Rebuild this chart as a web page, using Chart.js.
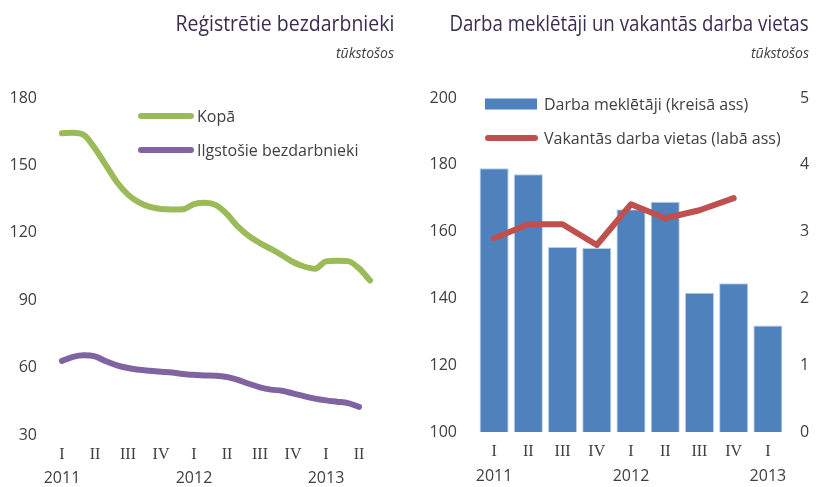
<!DOCTYPE html>
<html>
<head>
<meta charset="utf-8">
<script src="https://cdn.jsdelivr.net/npm/chart.js@4.4.1/dist/chart.umd.min.js"></script>
<style>
  body { margin: 0; background: #fff; }
  #wrap { position: relative; width: 820px; height: 487px; font-family: "Open Sans", sans-serif; }
  .panel { position: absolute; top: 0; width: 410px; height: 487px; }
  .panel canvas { position: absolute; left: 0; top: 0; }
  .title { position: absolute; top: 7px; font-size: 22px; color: #3b2d4f; white-space: nowrap; z-index: 2; transform-origin: right center; }
  .unit { position: absolute; top: 43px; font-size: 14px; font-style: italic; color: #404040; white-space: nowrap; z-index: 2; }
</style>
</head>
<body>
<div id="wrap">
  <div class="panel" style="left:0">
    <div class="title" style="right:16px; transform:scaleX(0.885)">Reģistrētie bezdarbnieki</div>
    <div class="unit" style="right:16px">tūkstošos</div>
    <canvas id="unemployed_canvas" width="410" height="487"></canvas>
  </div>
  <div class="panel" style="left:410px">
    <div class="title" style="right:11px; transform:scaleX(0.85)">Darba meklētāji un vakantās darba vietas</div>
    <div class="unit" style="right:11px">tūkstošos</div>
    <canvas id="seekers_canvas" width="410" height="487"></canvas>
  </div>
</div>
<script>
// monthly registered unemployment, thousands
var months = ['2011-01','2011-02','2011-03','2011-04','2011-05','2011-06','2011-07','2011-08','2011-09','2011-10','2011-11','2011-12',
              '2012-01','2012-02','2012-03','2012-04','2012-05','2012-06','2012-07','2012-08','2012-09','2012-10','2012-11','2012-12',
              '2013-01','2013-02','2013-03','2013-04','2013-05'];
var total_unemployed = [164.3,164.5,163.5,157.5,150,142.5,137,133.5,131.5,130.6,130.4,130.5,
                        132.8,133.4,132.3,128.3,122.7,118.5,115.4,112.8,110,107,105,104,
                        107.3,107.6,107.4,104.2,98.8];
var long_term_unemployed = [63,64.8,65.5,65,62.8,61,59.8,59,58.6,58.2,57.8,57.2,
                            56.8,56.5,56.4,55.8,54.5,52.8,51.2,50.2,49.7,48.5,47.3,46.2,
                            45.4,44.8,44.2,42.5,null];

// quarterly job seekers (left axis) and vacancies (right axis), thousands
var quarters = ['2011-Q1','2011-Q2','2011-Q3','2011-Q4','2012-Q1','2012-Q2','2012-Q3','2012-Q4','2013-Q1'];
var job_seekers = [179,177.2,155.4,155.1,166.7,168.9,141.7,144.5,131.9];
var vacancies = [2.9,3.11,3.11,2.8,3.41,3.2,3.32,3.5,null];

var roman_quarters = ['I','II','III','IV'];

var tick_color = '#404040';
var sans = '"Open Sans", sans-serif';
var serif = '"Liberation Serif", serif';

var green = '#9bbb59';
var purple = '#8064a2';
var blue = '#4f81bd';
var red = '#c0504d';

Chart.defaults.font.family = sans;
Chart.defaults.color = tick_color;

// fixed-size axis helpers
var fix_width = function(w) { return function(scale) { scale.width = w; }; };
var fix_height = function(h) { return function(scale) { scale.height = h; }; };

var hidden_grid = { display: false, drawTicks: false };
var no_border = { display: false };

// legend drawn inside the plot area
var inline_legend = {
  id: 'inline_legend',
  afterDraw: function(chart, args, opts) {
    var ctx = chart.ctx;
    ctx.save();
    ctx.font = '16px ' + sans;
    ctx.textBaseline = 'middle';
    ctx.fillStyle = tick_color;
    opts.items.forEach(function(item) {
      if (item.kind === 'box') {
        ctx.fillStyle = item.color;
        ctx.fillRect(item.x, item.y - 5.5, item.w, 11);
      } else {
        ctx.strokeStyle = item.color;
        ctx.lineWidth = 6;
        ctx.lineCap = 'round';
        ctx.beginPath();
        ctx.moveTo(item.x + 3, item.y);
        ctx.lineTo(item.x + item.w - 3, item.y);
        ctx.stroke();
      }
      ctx.fillStyle = tick_color;
      ctx.fillText(item.text, item.x + item.w + item.gap, item.y + 1);
    });
    ctx.restore();
  }
};

var quarter_tick = function(step) {
  return function(value, index) {
    return index % step === 0 ? roman_quarters[(index / step) % 4] : '';
  };
};

var year_tick = function(step, labels) {
  return function(value, index) {
    return index % step === 0 ? labels[index].slice(0, 4) : '';
  };
};

new Chart(document.getElementById('unemployed_canvas').getContext('2d'), {
  type: 'line',
  data: {
    labels: months,
    datasets: [
      {
        label: 'Kopā',
        data: total_unemployed,
        borderColor: green,
        borderWidth: 6,
        pointRadius: 0,
        tension: 0.3,
        cubicInterpolationMode: 'monotone',
        borderCapStyle: 'round',
        borderJoinStyle: 'round',
        clip: false
      },
      {
        label: 'Ilgstošie bezdarbnieki',
        data: long_term_unemployed,
        borderColor: purple,
        borderWidth: 6,
        pointRadius: 0,
        tension: 0.3,
        cubicInterpolationMode: 'monotone',
        borderCapStyle: 'round',
        borderJoinStyle: 'round',
        clip: false
      }
    ]
  },
  options: {
    responsive: false,
    animation: false,
    layout: { padding: { top: 98, right: 40, left: 0, bottom: 0 } },
    plugins: {
      legend: { display: false },
      tooltip: { enabled: false },
      inline_legend: {
        items: [
          { kind: 'line', color: green, x: 138, y: 116, w: 56, gap: 3, text: 'Kopā' },
          { kind: 'line', color: purple, x: 138, y: 150, w: 56, gap: 3, text: 'Ilgstošie bezdarbnieki' }
        ]
      }
    },
    scales: {
      x: {
        offset: false,
        weight: 0,
        grid: hidden_grid,
        border: no_border,
        afterFit: fix_height(26),
        ticks: { autoSkip: false, maxRotation: 0, padding: 10, font: { family: serif, size: 16 }, callback: quarter_tick(3) }
      },
      x2: {
        type: 'category',
        position: 'bottom',
        offset: false,
        weight: 1,
        grid: hidden_grid,
        border: no_border,
        afterFit: fix_height(26),
        ticks: { autoSkip: false, maxRotation: 0, padding: 8, font: { size: 16 }, callback: year_tick(12, months) }
      },
      y: {
        min: 30,
        max: 180,
        grid: hidden_grid,
        border: no_border,
        afterFit: fix_width(62),
        ticks: { stepSize: 30, padding: 25, font: { size: 16 } }
      }
    }
  },
  plugins: [inline_legend]
});

new Chart(document.getElementById('seekers_canvas').getContext('2d'), {
  type: 'bar',
  data: {
    labels: quarters,
    datasets: [
      {
        type: 'line',
        label: 'Vakantās darba vietas (labā ass)',
        data: vacancies,
        yAxisID: 'y1',
        borderColor: red,
        borderWidth: 6,
        pointRadius: 0,
        tension: 0,
        borderCapStyle: 'round',
        borderJoinStyle: 'round',
        order: 0,
        clip: false
      },
      {
        type: 'bar',
        label: 'Darba meklētāji (kreisā ass)',
        data: job_seekers,
        yAxisID: 'y',
        backgroundColor: blue,
        borderColor: '#b9cde5',
        borderWidth: 1,
        categoryPercentage: 1,
        barPercentage: 0.85,
        order: 1
      }
    ]
  },
  options: {
    responsive: false,
    animation: false,
    layout: { padding: { top: 98, right: 0, left: 0, bottom: 0 } },
    plugins: {
      legend: { display: false },
      tooltip: { enabled: false },
      inline_legend: {
        items: [
          { kind: 'box', color: blue, x: 75, y: 104, w: 52, gap: 7, text: 'Darba meklētāji (kreisā ass)' },
          { kind: 'line', color: red, x: 75, y: 138, w: 53, gap: 6, text: 'Vakantās darba vietas (labā ass)' }
        ]
      }
    },
    scales: {
      x: {
        offset: true,
        weight: 0,
        grid: hidden_grid,
        border: no_border,
        afterFit: fix_height(26),
        ticks: { autoSkip: false, maxRotation: 0, padding: 10, font: { family: serif, size: 16 }, callback: quarter_tick(1) }
      },
      x2: {
        type: 'category',
        position: 'bottom',
        offset: true,
        weight: 1,
        grid: hidden_grid,
        border: no_border,
        afterFit: fix_height(29),
        ticks: { autoSkip: false, maxRotation: 0, padding: 9, font: { size: 16 }, callback: year_tick(4, quarters) }
      },
      y: {
        position: 'left',
        min: 100,
        max: 200,
        grid: hidden_grid,
        border: no_border,
        afterFit: fix_width(67),
        ticks: { stepSize: 20, padding: 20, font: { size: 16 } }
      },
      y1: {
        position: 'right',
        min: 0,
        max: 5,
        grid: hidden_grid,
        border: no_border,
        afterFit: fix_width(35),
        ticks: { stepSize: 1, padding: 15, font: { size: 16 } }
      }
    }
  },
  plugins: [inline_legend]
});
</script>
</body>
</html>
